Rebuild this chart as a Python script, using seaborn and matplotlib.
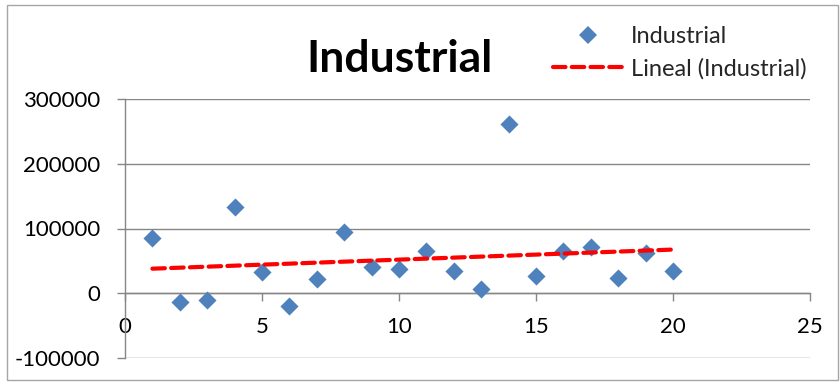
import matplotlib
matplotlib.use("Agg")
import matplotlib.pyplot as plt
import seaborn as sns
import pandas as pd
from matplotlib.lines import Line2D
from matplotlib.patches import Rectangle

# Industrial series by period
periods = list(range(1, 21))
industrial = [85000, -14000, -10000, 133000, 33000, -19000, 22000, 94000, 40000, 38000,
              66000, 34000, 6000, 261000, 27000, 66000, 71000, 24000, 62000, 35000]
x_ticks = [0, 5, 10, 15, 20, 25]
y_ticks = [-100000, 0, 100000, 200000, 300000]
y_tick_labels = ["-100000", "0", "100000", "200000", "300000"]
series_label = "Industrial"
trend_label = "Lineal (Industrial)"

sns.set_theme(style="white")
plt.rcParams["font.family"] = ["Lato", "DejaVu Sans"]

df = pd.DataFrame({"Periodo": periods, "Industrial": industrial})

W, H = 840, 383
fig = plt.figure(figsize=(W / 100, H / 100), dpi=100)
ax = fig.add_axes([125 / W, 1 - 358 / H, 685 / W, 259 / H])

grid_c = "#868686"
blue = "#4F81BD"
red = "#FF0000"
dash = (0, (3.0, 1.5))
trend_lw = 3.0

sns.scatterplot(data=df, x="Periodo", y="Industrial", marker="D", s=85,
                color=blue, linewidth=0, ax=ax, zorder=3, legend=False)
sns.regplot(data=df, x="Periodo", y="Industrial", scatter=False, ci=None, ax=ax,
            line_kws=dict(color=red, lw=trend_lw, linestyle=dash,
                          dash_capstyle="round", zorder=4))

ax.set_xlim(0, 25)
ax.set_ylim(-100000, 300000)
ax.set_xticks(x_ticks)
ax.set_yticks(y_ticks)
ax.set_yticklabels(y_tick_labels)
ax.set_xlabel("")
ax.set_ylabel("")

ax.yaxis.grid(True, color=grid_c, lw=1.0)
ax.xaxis.grid(False)
ax.set_axisbelow(True)
for side in ("top", "right"):
    ax.spines[side].set_visible(False)
ax.spines["left"].set_color(grid_c)
ax.spines["left"].set_linewidth(1.0)
ax.spines["bottom"].set_color(grid_c)
ax.spines["bottom"].set_linewidth(1.0)
ax.spines["bottom"].set_position(("data", 0))

ax.tick_params(axis="y", left=True, length=6, width=1, color=grid_c,
               direction="out", pad=12, labelsize=16, labelcolor="black")
ax.tick_params(axis="x", bottom=True, length=6, width=1, color=grid_c,
               direction="out", pad=11, labelsize=16, labelcolor="black")

fig.text(400 / W, 1 - 72 / H, "Industrial", ha="center", va="baseline",
         fontsize=32, fontweight="bold", color="black")

handles = [
    Line2D([], [], marker="D", ls="none", color=blue, markersize=9, markeredgewidth=0),
    Line2D([], [], color=red, lw=trend_lw, ls=dash, dash_capstyle="round"),
]
fig.legend(handles=handles, labels=[series_label, trend_label], loc="upper left",
           bbox_to_anchor=(553 / W, 1 - 26 / H), frameon=False, fontsize=17,
           handlelength=3.0, handletextpad=0.3, labelspacing=0.45,
           borderpad=0, borderaxespad=0)

fig.patches.append(Rectangle((7 / W, 3 / H), 831 / W, 375 / H,
                             transform=fig.transFigure, fill=False,
                             ec="#a6a6a6", lw=1))

fig.savefig("out.png", dpi=100)
